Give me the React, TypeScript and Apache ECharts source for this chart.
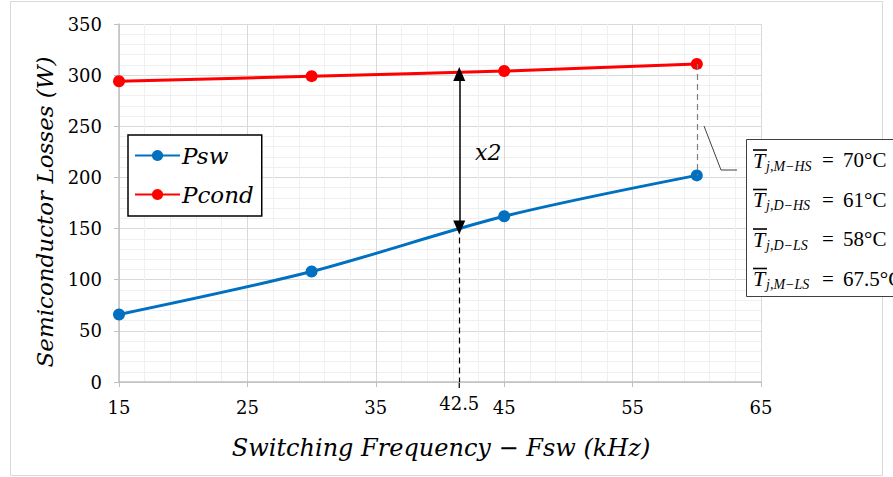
import React, { useEffect, useRef } from "react";
import * as echarts from "echarts";

const freq = [15, 30, 45, 60];
const pswValues = [66, 108, 162, 202];
const pcondValues = [294, 299, 304, 311];
const seriesNames = ["Psw", "Pcond"];
const seriesColors = ["#0070C0", "#FF0000"];

const xMin = 15, xMax = 65, xInterval = 10;
const yMin = 0, yMax = 350, yInterval = 50;

// annotation at the doubled-losses frequency
const markFreq = 41.5;
const markLabel = "42.5";
const arrowTop = 301;
const arrowBottom = 151;
const ratioLabel = "x2";

const tempSubs = ["j,M\u2212HS", "j,D\u2212HS", "j,D\u2212LS", "j,M\u2212LS"];
const tempValues = ["70°C", "61°C", "58°C", "67.5°C"];

const xTitle = "Switching Frequency \u2212 Fsw (kHz)";
const yTitle = "Semiconductor Losses (W)";

const SERIF = "DejaVu Serif";

export default function App() {
  const ref = useRef<HTMLDivElement>(null);
  useEffect(() => {
    if (!ref.current) return;
    const chart = echarts.init(ref.current, null, { renderer: "svg" });

    const tempGraphics: any[] = [];
    tempSubs.forEach((s, i) => {
      const cy = 160 + i * 39.5;
      tempGraphics.push(
        { type: "text", z: 20, x: 753, y: cy, style: { text: "T", font: `italic 22px "Liberation Serif"`, fill: "#000", textVerticalAlign: "middle" } },
        { type: "line", z: 20, shape: { x1: 753, y1: cy - 10, x2: 767, y2: cy - 10 }, style: { stroke: "#000", lineWidth: 1.6 } },
        { type: "text", z: 20, x: 766, y: cy + 6, style: { text: s, font: `italic 14px "Liberation Serif"`, fill: "#000", textVerticalAlign: "middle" } },
        { type: "text", z: 20, x: 822, y: cy, style: { text: "=", font: `21px "Liberation Serif"`, fill: "#000", textVerticalAlign: "middle" } },
        { type: "text", z: 20, x: 843, y: cy, style: { text: tempValues[i], font: `21px "Liberation Serif"`, fill: "#000", textVerticalAlign: "middle" } }
      );
    });

    const baseGraphics = [
      { type: "rect", z: -10, shape: { x: 10.5, y: 1.5, width: 872, height: 474 }, style: { fill: "none", stroke: "#d9d9d9", lineWidth: 1 } },
      { type: "text", x: 45, y: 212, rotation: Math.PI / 2, style: { text: yTitle, font: `italic 23px "${SERIF}"`, fill: "#000", textAlign: "center", textVerticalAlign: "middle" } },
      { type: "text", x: 441, y: 448, style: { text: xTitle, font: `italic 24px "${SERIF}"`, fill: "#000", textAlign: "center", textVerticalAlign: "middle" } },
      { type: "text", x: 475, y: 152, style: { text: ratioLabel, font: `italic 22px "${SERIF}"`, fill: "#000", textVerticalAlign: "middle" } },
      { type: "polyline", shape: { points: [[704, 126], [721, 170], [737, 170]] }, style: { stroke: "#404040", lineWidth: 1, fill: "none" } },
      { type: "rect", z: 10, shape: { x: 746.5, y: 139.5, width: 160, height: 157 }, style: { fill: "#fff", stroke: "#404040", lineWidth: 1 } },
      ...tempGraphics,
    ];

    chart.setOption({
      animation: false,
      grid: { left: 119, right: 132, top: 24, bottom: 95 },
      xAxis: {
        type: "value",
        min: xMin,
        max: xMax,
        interval: xInterval,
        axisLine: { show: true, lineStyle: { color: "#bfbfbf", width: 1.5 } },
        axisTick: { show: true, length: 5, lineStyle: { color: "#bfbfbf" } },
        axisLabel: { color: "#000", fontFamily: SERIF, fontSize: 18, margin: 16 },
        splitLine: { show: true, lineStyle: { color: "#d9d9d9", width: 1 } },
        minorTick: { show: false, splitNumber: 5 },
        minorSplitLine: { show: true, lineStyle: { color: "#f0f0f0", width: 1 } },
      },
      yAxis: {
        type: "value",
        min: yMin,
        max: yMax,
        interval: yInterval,
        axisLine: { show: true, lineStyle: { color: "#bfbfbf", width: 1.5 } },
        axisTick: { show: true, length: 5, lineStyle: { color: "#bfbfbf" } },
        axisLabel: { color: "#000", fontFamily: SERIF, fontSize: 18, margin: 17 },
        splitLine: { show: true, lineStyle: { color: "#d9d9d9", width: 1 } },
        minorTick: { show: false, splitNumber: 5 },
        minorSplitLine: { show: true, lineStyle: { color: "#f0f0f0", width: 1 } },
      },
      legend: {
        left: 128,
        top: 135,
        orient: "vertical",
        data: seriesNames,
        itemWidth: 45,
        itemHeight: 14,
        itemGap: 16,
        padding: [9, 8, 10, 6],
        backgroundColor: "#fff",
        borderColor: "#000",
        borderWidth: 1.5,
        borderRadius: 0,
        textStyle: { fontFamily: SERIF, fontStyle: "italic", fontSize: 23, color: "#000", padding: [0, 0, 0, -3] },
      },
      series: [
        {
          name: seriesNames[0],
          type: "line",
          data: freq.map((f, i) => [f, pswValues[i]]),
          smooth: 0.3,
          symbol: "circle",
          symbolSize: 12,
          itemStyle: { color: seriesColors[0] },
          lineStyle: { color: seriesColors[0], width: 3 },
          z: 3,
          markLine: {
            silent: true,
            symbol: ["none", "none"],
            animation: false,
            data: [
              [
                { coord: [markFreq, arrowTop], symbol: "triangle", symbolSize: [12, 14] },
                { coord: [markFreq, arrowBottom], symbol: "triangle", symbolSize: [12, 14] },
              ].map((d) => ({ ...d, lineStyle: { color: "#000", width: 1.5, type: "solid" }, label: { show: false } })) as any,
              [
                { coord: [markFreq, arrowBottom], lineStyle: { color: "#000", width: 1.2, type: [6, 4] }, label: { show: false } },
                { coord: [markFreq, yMin] },
              ],
              [
                { coord: [freq[3], pcondValues[3]], lineStyle: { color: "#7f7f7f", width: 1.2, type: [6, 4] }, label: { show: false } },
                { coord: [freq[3], pswValues[3]] },
              ],
            ],
          },
        },
        {
          name: seriesNames[1],
          type: "line",
          data: freq.map((f, i) => [f, pcondValues[i]]),
          smooth: 0.3,
          symbol: "circle",
          symbolSize: 12,
          itemStyle: { color: seriesColors[1] },
          lineStyle: { color: seriesColors[1], width: 3 },
          z: 3,
        },
      ],
      graphic: baseGraphics,
    });

    // label of the marked frequency, placed through the axis scale
    const [px, py] = chart.convertToPixel({ gridIndex: 0 }, [markFreq, yMin]) as number[];
    chart.setOption({
      graphic: [
        ...baseGraphics,
        { type: "line", shape: { x1: px, y1: py, x2: px, y2: py + 6 }, style: { stroke: "#000", lineWidth: 1.2 } },
        { type: "text", x: px, y: py + 21, style: { text: markLabel, font: `18px "${SERIF}"`, fill: "#000", textAlign: "center", textVerticalAlign: "middle" } },
      ],
    }, { replaceMerge: ["graphic"] });

    return () => chart.dispose();
  }, []);
  return <div ref={ref} style={{ width: 893, height: 477, position: "absolute", left: 0, top: 0, background: "#fff" }} />;
}
